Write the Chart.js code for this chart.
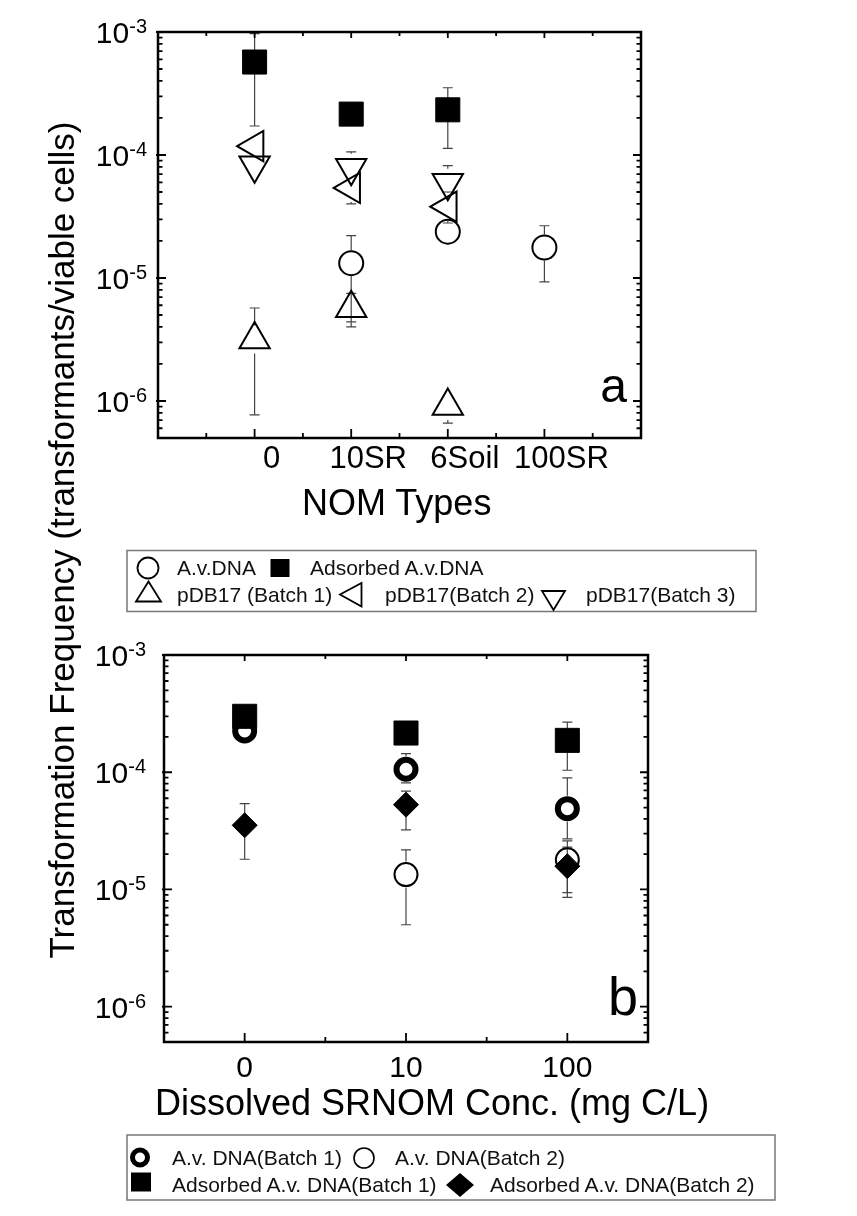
<!DOCTYPE html>
<html>
<head>
<meta charset="utf-8">
<script src="https://cdn.jsdelivr.net/npm/chart.js@4.4.0/dist/chart.umd.min.js"></script>
<style>
  body { margin: 0; background: #fff; }
  #page { position: relative; width: 857px; height: 1216px; overflow: hidden; background: #fff;
          font-family: "Liberation Sans", Arial, sans-serif; color: #000; }
  canvas { position: absolute; left: 0; }
  svg { position: absolute; left: 0; top: 0; }
  .t { position: absolute; white-space: nowrap; line-height: 1; }
  .leg { font-size: 21px; color: #111; }
  .title { font-size: 36px; }
</style>
</head>
<body>
<div id="page">
  <canvas id="chartA" width="857" height="540" style="top:0"></canvas>
  <canvas id="chartB" width="857" height="540" style="top:600px"></canvas>

  <svg width="857" height="1216">
    <!-- legend a -->
    <rect x="127" y="550.5" width="629" height="61" fill="none" stroke="#777" stroke-width="1.5"/>
    <circle cx="148" cy="568" r="10.5" fill="none" stroke="#000" stroke-width="1.8"/>
    <rect x="270.5" y="559" width="19" height="18" fill="#000"/>
    <polygon points="136,601.5 161,601.5 148.5,581.5" fill="none" stroke="#000" stroke-width="1.8"/>
    <polygon points="340,594.5 361.5,583 361.5,606.5" fill="none" stroke="#000" stroke-width="1.8"/>
    <polygon points="542,591 565,591 553.5,610" fill="none" stroke="#000" stroke-width="1.8"/>
    <!-- legend b -->
    <rect x="127" y="1135" width="648" height="65" fill="none" stroke="#777" stroke-width="1.5"/>
    <circle cx="140" cy="1157.5" r="7.5" fill="none" stroke="#000" stroke-width="5"/>
    <circle cx="364" cy="1158" r="10" fill="none" stroke="#000" stroke-width="1.6"/>
    <rect x="131" y="1172.5" width="20" height="19" fill="#000"/>
    <polygon points="460,1173 474,1185 460,1197 446,1185" fill="#000"/>
  </svg>

  <div class="t title" style="left:302px; top:484.5px">NOM Types</div>
  <div class="t title" style="left:155px; top:1084.5px">Dissolved SRNOM Conc. (mg C/L)</div>
  <div class="t" style="left:61px; top:540px; font-size:35px; line-height:35px; transform:translate(-50%,-50%) rotate(-90deg)">Transformation Frequency (transformants/viable cells)</div>

  <div class="t leg" style="left:177px; top:557.2px">A.v.DNA</div>
  <div class="t leg" style="left:310px; top:557.2px">Adsorbed A.v.DNA</div>
  <div class="t leg" style="left:177px; top:583.9px">pDB17 (Batch 1)</div>
  <div class="t leg" style="left:385px; top:583.9px">pDB17(Batch 2)</div>
  <div class="t leg" style="left:586px; top:583.9px">pDB17(Batch 3)</div>

  <div class="t leg" style="left:172px; top:1147.2px">A.v. DNA(Batch 1)</div>
  <div class="t leg" style="left:395px; top:1147.2px">A.v. DNA(Batch 2)</div>
  <div class="t leg" style="left:172px; top:1173.9px">Adsorbed A.v. DNA(Batch 1)</div>
  <div class="t leg" style="left:490px; top:1173.9px">Adsorbed A.v. DNA(Batch 2)</div>
</div>

<script>
// ---- panel a: NOM types ----
const nomTypes = ["0", "10SR", "6Soil", "100SR"];
const nomX = [0, 1, 2, 3];

const avDnaA = [null, 1.32e-5, 2.38e-5, 1.77e-5];
const avDnaALo = [null, 4.4e-6, null, 9.3e-6];
const avDnaAHi = [null, 2.21e-5, null, 2.66e-5];

const adsA = [5.7e-4, 2.15e-4, 2.33e-4, null];
const adsALo = [1.72e-4, null, 1.13e-4, null];
const adsAHi = [9.7e-4, null, 3.52e-4, null];

const pdb1 = [3.16e-6, 5.67e-6, 9.1e-7, null];
const pdb1Lo = [7.7e-7, 4.0e-6, 6.6e-7, null];
const pdb1Hi = [5.7e-6, 7.5e-6, 1.1e-6, null];

const pdb2 = [1.18e-4, 5.4e-5, 3.8e-5, null];
const pdb2Lo = [1.0e-4, 4.0e-5, 2.8e-5, null];
const pdb2Hi = [1.35e-4, 7.0e-5, 5.0e-5, null];

const pdb3 = [8.24e-5, 7.88e-5, 5.96e-5, null];
const pdb3Lo = [7.0e-5, 7.1e-5, 4.6e-5, null];
const pdb3Hi = [9.5e-5, 1.06e-4, 8.2e-5, null];

// ---- panel b: dissolved SRNOM concentration ----
const concLabels = ["0", "10", "100"];
const concX = [0, 1, 2];

const avB1 = [2.25e-4, 1.06e-4, 4.89e-5];
const avB1Lo = [null, 8.1e-5, 2.7e-5];
const avB1Hi = [null, 1.44e-4, 8.95e-5];

const avB2 = [null, 1.34e-5, 1.79e-5];
const avB2Lo = [null, 5.0e-6, 9.4e-6];
const avB2Hi = [null, 2.18e-5, 2.6e-5];

const adsB1 = [3.0e-4, 2.16e-4, 1.87e-4];
const adsB1Lo = [null, null, 1.04e-4];
const adsB1Hi = [null, null, 2.68e-4];

const adsB2 = [3.53e-5, 5.29e-5, 1.58e-5];
const adsB2Lo = [1.81e-5, 3.23e-5, 8.55e-6];
const adsB2Hi = [5.4e-5, 6.9e-5, 2.3e-5];

// ---- axes ----
const yMajor = [1e-6, 1e-5, 1e-4, 1e-3];
const yExp = ["-6", "-5", "-4", "-3"];
const yMinor = [];
for (const d of [1e-7, 1e-6, 1e-5, 1e-4]) {
    for (let k = 2; k <= 9; k++) {
        if (k * d > 5.5e-7) yMinor.push(k * d);
    }
}

const FONT = '"Liberation Sans", Arial, sans-serif';

function points(xs, ys) {
    return xs.map((x, i) => ({ x: x, y: ys[i] }));
}

// Origin style box: inward ticks on all four sides, 10^n labels
function makeFrame(cfg) {
    return {
        id: "axisFrame",
        afterDraw(chart) {
            const { ctx, chartArea: a, scales: { x, y } } = chart;
            ctx.save();
            ctx.strokeStyle = "#000";
            ctx.lineWidth = 1.8;
            ctx.beginPath();
            yMajor.forEach(v => {
                const p = y.getPixelForValue(v);
                ctx.moveTo(a.left - 2, p); ctx.lineTo(a.left + 8, p);
                ctx.moveTo(a.right, p); ctx.lineTo(a.right - 8, p);
            });
            yMinor.forEach(v => {
                const p = y.getPixelForValue(v);
                ctx.moveTo(a.left, p); ctx.lineTo(a.left + 4.5, p);
                ctx.moveTo(a.right, p); ctx.lineTo(a.right - 4.5, p);
            });
            cfg.xMajor.forEach(v => {
                const p = x.getPixelForValue(v);
                ctx.moveTo(p, a.bottom); ctx.lineTo(p, a.bottom - 9);
                ctx.moveTo(p, a.top); ctx.lineTo(p, a.top + 6);
            });
            cfg.xMinor.forEach(v => {
                const p = x.getPixelForValue(v);
                ctx.moveTo(p, a.bottom); ctx.lineTo(p, a.bottom - 5);
                ctx.moveTo(p, a.top); ctx.lineTo(p, a.top + 4);
            });
            ctx.stroke();
            ctx.lineWidth = 2.5;
            ctx.strokeRect(a.left, a.top, a.right - a.left, a.bottom - a.top);

            ctx.fillStyle = "#000";
            ctx.textBaseline = "alphabetic";
            yMajor.forEach((v, i) => {
                const p = y.getPixelForValue(v);
                ctx.font = "20px " + FONT;
                const sw = ctx.measureText(yExp[i]).width;
                const sx = a.left - cfg.yGap - sw;
                ctx.textAlign = "left";
                ctx.fillText(yExp[i], sx, p + 1);
                ctx.font = "30px " + FONT;
                ctx.textAlign = "right";
                ctx.fillText("10", sx, p + 11);
            });

            ctx.font = cfg.xFont + "px " + FONT;
            ctx.textAlign = "center";
            cfg.xMajor.forEach((v, i) => {
                ctx.fillText(cfg.xLabels[i], x.getPixelForValue(v) + cfg.xLabelDx, a.bottom + cfg.xLabelDy);
            });

            ctx.font = cfg.letterSize + "px " + FONT;
            ctx.textAlign = "right";
            ctx.fillText(cfg.letter, a.right - cfg.letterDx, a.bottom - cfg.letterDy);
            ctx.restore();
        }
    };
}

// vertical error bars with a gap around the symbol
const errorBars = {
    id: "errorBars",
    beforeDatasetsDraw(chart) {
        const { ctx, scales: { y } } = chart;
        ctx.save();
        ctx.strokeStyle = "#444";
        ctx.lineWidth = 1.2;
        chart.data.datasets.forEach((ds, i) => {
            const meta = chart.getDatasetMeta(i);
            ds.data.forEach((pt, j) => {
                if (pt.y == null) return;
                const el = meta.data[j];
                const px = el.x, py = el.y, gap = ds.errGap;
                ctx.beginPath();
                if (ds.errHi[j] != null) {
                    const yh = y.getPixelForValue(ds.errHi[j]);
                    if (py - yh > gap) {
                        ctx.moveTo(px, py - gap); ctx.lineTo(px, yh);
                        ctx.moveTo(px - 5, yh); ctx.lineTo(px + 5, yh);
                    }
                }
                if (ds.errLo[j] != null) {
                    const yl = y.getPixelForValue(ds.errLo[j]);
                    if (yl - py > gap) {
                        ctx.moveTo(px, py + gap); ctx.lineTo(px, yl);
                        ctx.moveTo(px - 5, yl); ctx.lineTo(px + 5, yl);
                    }
                }
                ctx.stroke();
            });
        });
        ctx.restore();
    }
};

function baseOptions(padding) {
    return {
        responsive: false,
        animation: false,
        events: [],
        layout: { padding: padding },
        plugins: { legend: { display: false }, tooltip: { enabled: false } },
        scales: {
            x: { type: "linear", display: false },
            y: { type: "logarithmic", min: 5e-7, max: 1e-3, display: false }
        }
    };
}

const optsA = baseOptions({ left: 158, right: 216, top: 32, bottom: 102 });
optsA.scales.x.min = -1;
optsA.scales.x.max = 4;

new Chart(document.getElementById("chartA"), {
    type: "scatter",
    data: {
        datasets: [
            { label: "A.v.DNA", data: points(nomX, avDnaA), errLo: avDnaALo, errHi: avDnaAHi, errGap: 13,
              pointStyle: "circle", pointRadius: 12, borderWidth: 2, borderColor: "#000",
              backgroundColor: "rgba(0,0,0,0)", order: 5 },
            { label: "Adsorbed A.v.DNA", data: points(nomX, adsA), errLo: adsALo, errHi: adsAHi, errGap: 12,
              pointStyle: "rect", pointRadius: 17, borderWidth: 1, borderColor: "#000",
              backgroundColor: "#000", order: 4 },
            { label: "pDB17 (Batch 1)", data: points(nomX, pdb1), errLo: pdb1Lo, errHi: pdb1Hi, errGap: 14,
              pointStyle: "triangle", pointRadius: 17.5, rotation: 0, borderWidth: 2, borderColor: "#000",
              backgroundColor: "rgba(0,0,0,0)", order: 3 },
            { label: "pDB17(Batch 2)", data: points(nomX, pdb2), errLo: pdb2Lo, errHi: pdb2Hi, errGap: 14,
              pointStyle: "triangle", pointRadius: 17.5, rotation: -90, borderWidth: 2, borderColor: "#000",
              backgroundColor: "rgba(0,0,0,0)", order: 2 },
            { label: "pDB17(Batch 3)", data: points(nomX, pdb3), errLo: pdb3Lo, errHi: pdb3Hi, errGap: 14,
              pointStyle: "triangle", pointRadius: 17.5, rotation: 180, borderWidth: 2, borderColor: "#000",
              backgroundColor: "rgba(0,0,0,0)", order: 1 }
        ]
    },
    options: optsA,
    plugins: [errorBars, makeFrame({
        xMajor: nomX, xMinor: [-0.5, 0.5, 1.5, 2.5, 3.5], xLabels: nomTypes,
        xFont: 31, xLabelDx: 17, xLabelDy: 30, yGap: 11,
        letter: "a", letterSize: 48, letterDx: 14, letterDy: 36
    })]
});

const optsB = baseOptions({ left: 164, right: 209, top: 55, bottom: 98 });
optsB.scales.x.min = -0.5;
optsB.scales.x.max = 2.5;

new Chart(document.getElementById("chartB"), {
    type: "scatter",
    data: {
        datasets: [
            { label: "A.v. DNA(Batch 1)", data: points(concX, avB1), errLo: avB1Lo, errHi: avB1Hi, errGap: 13,
              pointStyle: "circle", pointRadius: 9.5, borderWidth: 6, borderColor: "#000",
              backgroundColor: "rgba(0,0,0,0)", order: 4 },
            { label: "A.v. DNA(Batch 2)", data: points(concX, avB2), errLo: avB2Lo, errHi: avB2Hi, errGap: 13,
              pointStyle: "circle", pointRadius: 11.5, borderWidth: 2, borderColor: "#000",
              backgroundColor: "rgba(0,0,0,0)", order: 3 },
            { label: "Adsorbed A.v. DNA(Batch 1)", data: points(concX, adsB1), errLo: adsB1Lo, errHi: adsB1Hi, errGap: 12,
              pointStyle: "rect", pointRadius: 17, borderWidth: 1, borderColor: "#000",
              backgroundColor: "#000", order: 2 },
            { label: "Adsorbed A.v. DNA(Batch 2)", data: points(concX, adsB2), errLo: adsB2Lo, errHi: adsB2Hi, errGap: 12,
              pointStyle: "rectRot", pointRadius: 12.5, borderWidth: 1, borderColor: "#000",
              backgroundColor: "#000", order: 1 }
        ]
    },
    options: optsB,
    plugins: [errorBars, makeFrame({
        xMajor: concX, xMinor: [0.5, 1.5], xLabels: concLabels,
        xFont: 30, xLabelDx: 0, xLabelDy: 35, yGap: 18,
        letter: "b", letterSize: 54, letterDx: 10, letterDy: 27
    })]
});
</script>
</body>
</html>
